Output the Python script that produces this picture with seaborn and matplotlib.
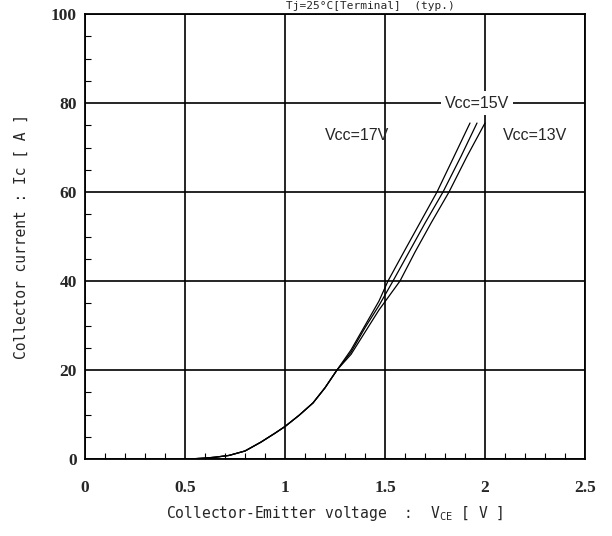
import numpy as np
import pandas as pd
import seaborn as sns
import matplotlib.pyplot as plt
from matplotlib.ticker import MultipleLocator

# shared low-current part of the three curves (they overlap below ~20 A)
v_common = [0.52, 0.60, 0.65, 0.72, 0.80, 0.88, 0.95, 1.00, 1.07, 1.14, 1.20, 1.26]
i_common = [0.0, 0.2, 0.4, 0.8, 1.8, 3.8, 5.8, 7.3, 9.8, 12.6, 16.0, 20.0]

# upper part for each supply voltage
v_17 = [1.33, 1.40, 1.47, 1.515, 1.60, 1.68, 1.76, 1.84, 1.925]
i_17 = [24.5, 30.0, 35.5, 40.0, 47.0, 53.5, 60.0, 67.5, 75.5]

v_15 = [1.33, 1.40, 1.47, 1.54, 1.62, 1.70, 1.79, 1.88, 1.96]
i_15 = [24.0, 29.5, 34.5, 40.0, 46.5, 53.0, 60.0, 68.0, 75.5]

v_13 = [1.33, 1.40, 1.47, 1.575, 1.65, 1.73, 1.82, 1.91, 2.00]
i_13 = [23.5, 28.5, 33.5, 40.0, 46.5, 53.0, 60.0, 68.0, 75.5]

labels = ["Vcc=17V", "Vcc=15V", "Vcc=13V"]

rows = []
for lab, vs, cs in zip(labels, [v_17, v_15, v_13], [i_17, i_15, i_13]):
    for v, c in zip(v_common + vs, i_common + cs):
        rows.append({"Vce": v, "Ic": c, "curve": lab})
df = pd.DataFrame(rows)

sns.set_style("white")
plt.rcParams['font.family'] = ['Liberation Sans', 'DejaVu Sans']

fig = plt.figure(figsize=(6.12, 5.36), dpi=100)
ax = fig.add_axes([85 / 612, 1 - 459 / 536, 500 / 612, 445 / 536])

sns.lineplot(data=df, x="Vce", y="Ic", hue="curve", palette=["black"] * 3,
             linewidth=0.9, legend=False, ax=ax, sort=True)

ax.set_xlim(0, 2.5)
ax.set_ylim(0, 100)
ax.xaxis.set_major_locator(MultipleLocator(0.5))
ax.xaxis.set_minor_locator(MultipleLocator(0.1))
ax.yaxis.set_major_locator(MultipleLocator(20))
ax.yaxis.set_minor_locator(MultipleLocator(5))
ax.grid(True, which="major", color="black", linewidth=1.2)
ax.set_axisbelow(True)
for s in ax.spines.values():
    s.set_color("black")
    s.set_linewidth(1.3)

ax.tick_params(which="major", length=0)
ax.tick_params(which="minor", direction="in", length=4, width=0.8, color="black",
               bottom=True, left=True)
ax.set_xticks([0, 0.5, 1, 1.5, 2, 2.5])
ax.set_xticklabels(["0", "0.5", "1", "1.5", "2", "2.5"])
for t in ax.get_xticklabels() + ax.get_yticklabels():
    t.set_fontfamily("Liberation Serif")
    t.set_fontweight("bold")
    t.set_fontsize(12.5)
ax.tick_params(axis="x", pad=15)
ax.tick_params(axis="y", pad=6)

ax.set_xlabel("Collector-Emitter voltage  :  V$_\\mathregular{CE}$ [ V ]",
              fontsize=10.5, fontfamily="DejaVu Sans Mono", labelpad=6)
ax.set_ylabel("Collector current : Ic [ A ]", fontsize=10.5,
              fontfamily="DejaVu Sans Mono", labelpad=16)

ax.text(1.96, 80, "Vcc=15V", ha="center", va="center", fontsize=11.5,
        bbox=dict(facecolor="white", edgecolor="none", pad=3))
ax.text(1.36, 72.8, "Vcc=17V", ha="center", va="center", fontsize=11.5)
ax.text(2.25, 72.8, "Vcc=13V", ha="center", va="center", fontsize=11.5)

# title squeezed into the strip above the plot (it is cut off in the scan)
fig.text(370 / 612, 1 - 1 / 536, "Tj=25°C[Terminal]  (typ.)", ha="center",
         va="top", fontsize=8, fontfamily="DejaVu Sans Mono")

fig.savefig("out.png", dpi=100)
